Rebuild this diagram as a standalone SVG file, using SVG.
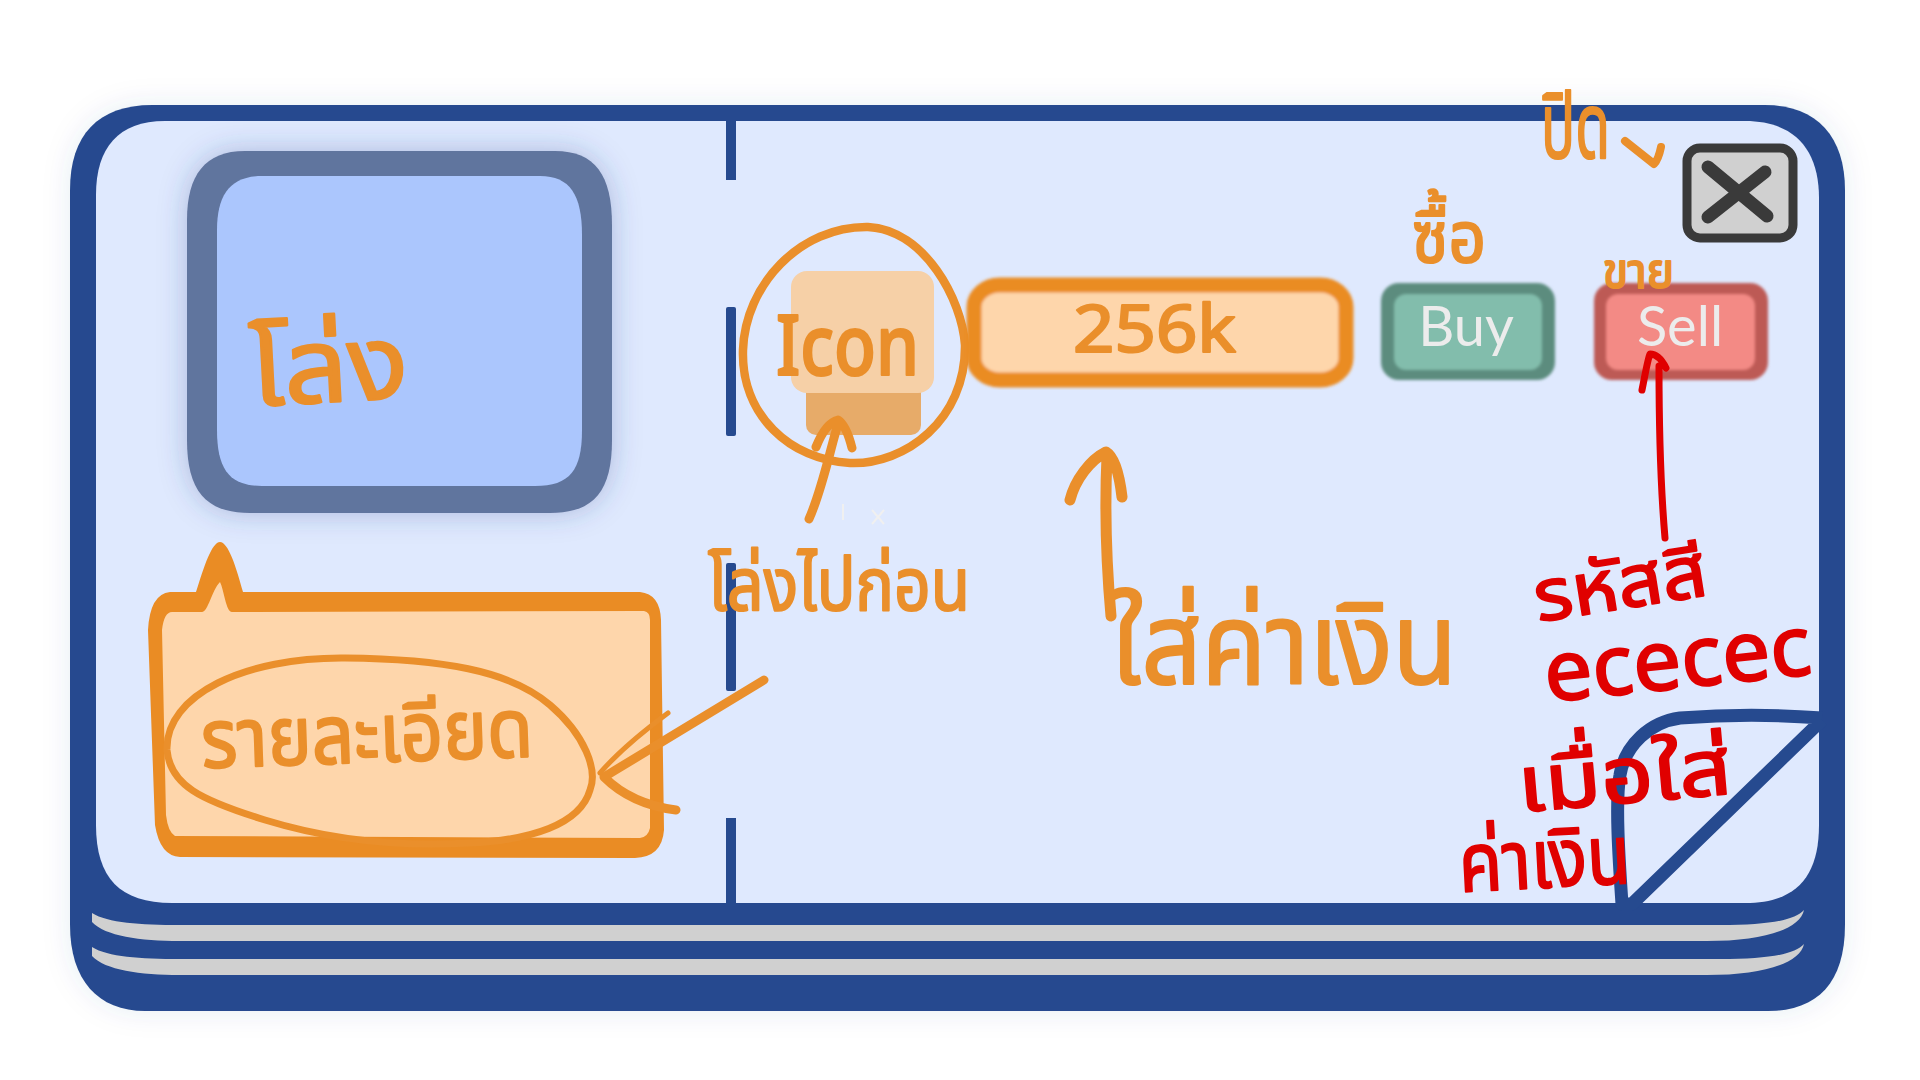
<svg xmlns="http://www.w3.org/2000/svg" width="1920" height="1080" viewBox="0 0 1920 1080">
<style>
.o{fill:#ea8f2b;stroke:#ea8f2b;stroke-width:2.2px;stroke-linejoin:round;font-family:"Noto Sans","Noto Sans Thai","DejaVu Sans",sans-serif}
.r{fill:#e00000;stroke:#e00000;stroke-width:2px;stroke-linejoin:round;font-family:"Noto Sans","Noto Sans Thai","DejaVu Sans",sans-serif}
.w{fill:#ececec;font-family:"Lato","Noto Sans",sans-serif;font-size:56px;text-anchor:middle}
.ln{fill:none;stroke:#ea8f2b;stroke-linecap:round;stroke-linejoin:round}
.rd{fill:none;stroke:#e00000;stroke-linecap:round;stroke-linejoin:round}
.dv{fill:#264a8f}
.st{fill:#d0d0d0}
</style>
<defs>
<filter id="halo" x="-5%" y="-5%" width="110%" height="110%"><feDropShadow dx="0" dy="0" stdDeviation="14" flood-color="#264a8f" flood-opacity=".1"/></filter>
<filter id="soft" x="-10%" y="-10%" width="120%" height="120%"><feDropShadow dx="0" dy="0" stdDeviation="14" flood-color="#264a8f" flood-opacity=".3"/></filter>
<filter id="bl" x="-5%" y="-10%" width="110%" height="120%"><feGaussianBlur stdDeviation="1.4"/></filter>
</defs>
<rect width="1920" height="1080" fill="#fff"/>
<g id="frame">
<path d="M152 105L1765 105C1818 105 1845 138 1845 190L1845 925C1845 982 1818 1011 1768 1011L145 1011C98 1011 70 980 70 925L70 190C70 135 98 105 152 105Z" fill="#264a8f" filter="url(#halo)"/>
<path d="M165 121L1745 121C1795 121 1819 150 1819 198L1819 825C1819 878 1795 903 1745 903L172 903C120 903 96 878 96 825L96 195C96 148 118 121 165 121Z" fill="#dfe9fe"/>
<path class="st" d="M92 913C108 923 140 925 180 925L1720 925C1770 925 1795 920 1804 910C1800 930 1760 942 1700 941L180 941C140 941 105 936 92 922Z"/>
<path class="st" d="M92 947C108 957 140 959 180 959L1720 959C1770 959 1795 954 1804 944C1800 964 1760 976 1700 975L180 975C140 975 105 970 92 956Z"/>
</g>
<g id="divider">
<rect class="dv" x="726" y="121" width="10" height="59"/>
<rect class="dv" x="726" y="307" width="10" height="129" rx="2"/>
<rect class="dv" x="726" y="563" width="10" height="128" rx="2"/>
<rect class="dv" x="726" y="818" width="10" height="88"/>
</g>
<g id="logo-box">
<path d="M245 151L555 151C595 151 612 175 612 225L612 440C612 490 595 513 550 513L250 513C205 513 187 490 187 440L187 220C187 175 205 151 245 151Z" fill="#61749e" filter="url(#soft)"/>
<path d="M262 176L540 176C570 176 582 195 582 235L582 430C582 470 570 486 535 486L262 486C230 486 217 470 217 430L217 230C217 195 230 176 262 176Z" fill="#abc6fd"/>
<text class="o" x="252" y="406" font-size="104" transform="rotate(-3 252 406)" textLength="158" lengthAdjust="spacingAndGlyphs">โล่ง</text>
</g>
<g id="detail-bubble">
<path d="M170 592L196 592C204 566 212 542 220 542C228 542 236 566 243 592L640 592Q660 594 661 620L664 830Q662 857 635 858L180 857Q160 856 155 825L148 630Q150 594 170 592Z" fill="#ea8c24"/>
<path d="M172 612L202 612C208 612 212 590 220 582C224 590 226 612 232 612L644 611Q650 612 650 620L650 828Q648 837 640 838L175 836Q168 832 166 815L162 630Q164 612 172 612Z" fill="#fed6ab"/>
<path class="ln" stroke-width="7" d="M167 750C165 695 245 657 345 658C440 659 510 670 550 705C585 735 598 770 590 790C580 825 530 840 470 843C400 847 330 840 265 820C200 800 170 785 167 750Z"/>
<text class="o" x="202" y="768" font-size="82" transform="rotate(-2 202 768)" textLength="332" lengthAdjust="spacingAndGlyphs">รายละเอียด</text>
<path class="ln" stroke-width="9" d="M764 680L604 777C622 795 645 806 676 810"/>
<path class="ln" stroke-width="5" d="M600 773C620 750 645 730 668 713"/>
</g>
<g id="icon">
<rect x="806" y="370" width="115" height="65" rx="10" fill="#e7ab69"/>
<rect x="791" y="271" width="143" height="122" rx="16" fill="#f6d0a7"/>
<path class="ln" stroke-width="8.5" d="M743 350C745 285 800 226 868 227C925 230 962 300 965 345C966 420 905 465 850 463C790 460 741 415 743 350Z"/>
<text class="o" x="776" y="375" font-size="84" font-weight="500" textLength="143" lengthAdjust="spacingAndGlyphs">Icon</text>
<path class="ln" stroke-width="9" d="M809 519C822 490 830 450 838 424M816 447C822 432 830 422 838 420C846 425 850 440 852 448"/>
<path stroke="#f0f0f0" stroke-width="2" fill="none" d="M843 504V520M872 510L884 524M884 510L872 524"/>
<text class="o" x="708" y="610" font-size="74" textLength="262" lengthAdjust="spacingAndGlyphs">โล่งไปก่อน</text>
</g>
<g id="amount">
<rect x="974" y="285" width="372" height="95" rx="26" ry="22" fill="#fed6ab" stroke="#ea8c24" stroke-width="15" filter="url(#bl)"/>
<text class="o" x="1073" y="352" font-size="66" textLength="163" lengthAdjust="spacingAndGlyphs">256k</text>
<path class="ln" stroke-width="11" d="M1111 616C1106 560 1105 500 1107 456M1070 500C1075 480 1090 460 1106 452C1116 458 1120 480 1122 497"/>
<text class="o" x="1112" y="684" font-size="114" textLength="345" lengthAdjust="spacingAndGlyphs">ใส่ค่าเงิน</text>
</g>
<g id="buy">
<rect x="1381" y="283" width="174" height="97" rx="18" fill="#5c8c7e" filter="url(#bl)"/>
<rect x="1394" y="294" width="148" height="76" rx="12" fill="#82bdac" filter="url(#bl)"/>
<text class="w" x="1466" y="346">Buy</text>
<text class="o" x="1412" y="262" font-size="72" textLength="74" lengthAdjust="spacingAndGlyphs">ซื้อ</text>
</g>
<g id="sell">
<rect x="1594" y="283" width="174" height="97" rx="18" fill="#bd5a55" filter="url(#bl)"/>
<rect x="1606" y="294" width="149" height="76" rx="12" fill="#f38a85" filter="url(#bl)"/>
<text class="w" x="1680" y="346">Sell</text>
<text class="o" x="1603" y="288" font-size="48" textLength="71" lengthAdjust="spacingAndGlyphs">ขาย</text>
</g>
<g id="close">
<rect x="1687" y="148" width="106" height="90" rx="13" fill="#d0d0d0" stroke="#3a3a3a" stroke-width="9"/>
<path d="M1708 167L1767 216M1765 172L1708 217" stroke="#3a3a3a" stroke-width="13" stroke-linecap="round" fill="none"/>
<text class="o" x="1541" y="158" font-size="92" textLength="69" lengthAdjust="spacingAndGlyphs">ปิด</text>
<path class="ln" stroke-width="8" d="M1625 141L1654 164C1658 160 1660 152 1661 147"/>
</g>
<g id="connectors">
<path class="rd" stroke-width="7" d="M1665 538C1660 480 1659 420 1659 366M1642 390C1645 375 1648 358 1650 354C1656 354 1662 360 1666 368"/>
</g>
<g id="fold">
<path fill="none" stroke="#264a8f" stroke-width="13" stroke-linejoin="round" d="M1822 718C1770 714 1720 715 1680 718C1650 722 1625 745 1620 775C1615 800 1619 860 1622 904L1632 904L1822 720"/>
</g>
<g id="note">
<text class="r" x="1538" y="622" font-size="72" transform="rotate(-9 1538 622)" textLength="174" lengthAdjust="spacingAndGlyphs">รหัสสี</text>
<text class="r" x="1547" y="702" font-size="84" transform="rotate(-6 1547 702)" textLength="268" lengthAdjust="spacingAndGlyphs">ececec</text>
<text class="r" x="1520" y="812" font-size="78" transform="rotate(-5 1520 812)" textLength="214" lengthAdjust="spacingAndGlyphs">เมื่อใส่</text>
<text class="r" x="1460" y="892" font-size="82" transform="rotate(-3 1460 892)" textLength="172" lengthAdjust="spacingAndGlyphs">ค่าเงิน</text>
</g>
</svg>
